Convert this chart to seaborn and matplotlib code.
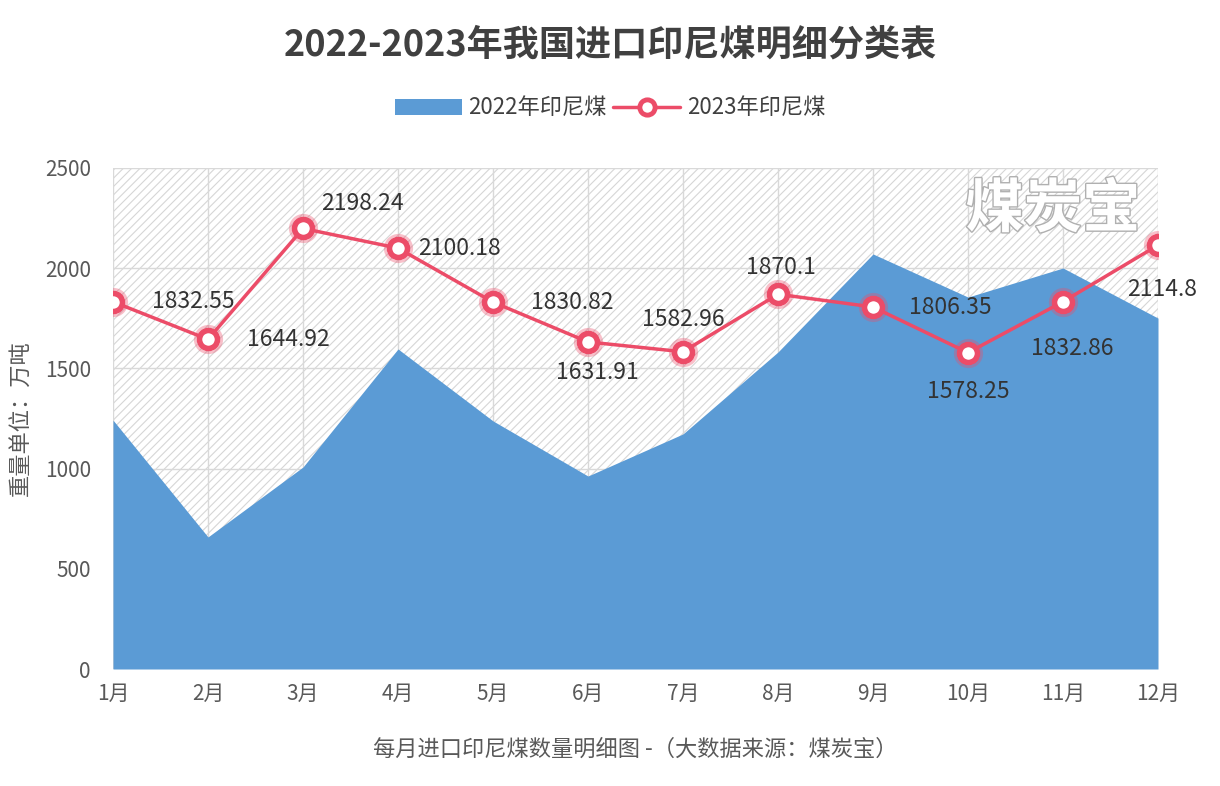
import numpy as np
import pandas as pd
import matplotlib
matplotlib.use("Agg")
import matplotlib.pyplot as plt
import matplotlib.patheffects as pe
from matplotlib.patches import Patch
from matplotlib.lines import Line2D
import seaborn as sns

# data
months = ["1月", "2月", "3月", "4月", "5月", "6月", "7月", "8月", "9月", "10月", "11月", "12月"]
coal_2022 = [1242, 659, 1008, 1597, 1238, 963, 1173, 1582, 2071, 1856, 2001, 1751]
coal_2023 = [1832.55, 1644.92, 2198.24, 2100.18, 1830.82, 1631.91, 1582.96, 1870.1, 1806.35, 1578.25, 1832.86, 2114.8]
label_2023 = ["1832.55", "1644.92", "2198.24", "2100.18", "1830.82", "1631.91", "1582.96", "1870.1", "1806.35", "1578.25", "1832.86", "2114.8"]

sns.set_theme(style="white")
plt.rcParams["font.family"] = ["Noto Sans CJK SC", "DejaVu Sans"]
plt.rcParams["hatch.linewidth"] = 0.8

df = pd.DataFrame({"month": np.arange(1, 13), "y2022": coal_2022, "y2023": coal_2023})

blue = "#5B9BD5"
red = "#EC4C68"
txt = "#595959"

fig = plt.figure(figsize=(12.2, 7.86), dpi=100)
ax = fig.add_axes([113 / 1220, 1 - 669 / 786, (1158 - 113) / 1220, (669 - 168) / 786])

# hatched background of the plot area
ax.fill_between(df["month"], 0, 2500, facecolor="white", edgecolor="#d6d6d6",
                hatch="////", linewidth=0, zorder=0)
for m in df["month"]:
    ax.axvline(m, color="#d9d9d9", lw=1, zorder=1)
for v in range(0, 2501, 500):
    ax.axhline(v, color="#d9d9d9", lw=1, zorder=1)

# 2022 area
ax.fill_between(df["month"], 0, df["y2022"], color=blue, lw=0, zorder=2)

# 2023 line
sns.lineplot(data=df, x="month", y="y2023", ax=ax, color=red, lw=2.5, zorder=4, legend=False)
ax.plot(df["month"], df["y2023"], "o", ms=19, mfc="none", mec=red, mew=2, alpha=0.35, zorder=5)
ax.plot(df["month"], df["y2023"], "o", ms=13, mfc="white", mec=red, mew=4, zorder=6)

# value labels, offsets in points
offsets = [(58, 0), (58, 0), (43, 18), (44, 0), (57, 0), (7, -22), (0, 23), (2, 19),
           (56, 0), (0, -28), (7, -34), (3, -32)]
for m, v, lab, off in zip(df["month"], df["y2023"], label_2023, offsets):
    ax.annotate(lab, (m, v), xytext=off, textcoords="offset points",
                ha="center", va="center", fontsize=16.5, color="#333333", zorder=7)

ax.set_xlim(1, 12)
ax.set_ylim(0, 2500)
ax.set_xticks(df["month"])
ax.set_xticklabels(months)
ax.set_yticks(range(0, 2501, 500))
ax.tick_params(axis="both", length=0, labelsize=15, labelcolor=txt)
ax.tick_params(axis="x", pad=10)
ax.tick_params(axis="y", pad=16)
for s in ax.spines.values():
    s.set_visible(False)
ax.set_xlabel("每月进口印尼煤数量明细图 -（大数据来源：煤炭宝）", fontsize=16, color=txt, labelpad=24)
ax.set_ylabel("重量单位：万吨", fontsize=16, color=txt, labelpad=6)
ax.yaxis.set_label_coords(-0.077, 0.5)

# watermark
ax.text(1053 / 1220, 1 - 210 / 786, "煤炭宝", transform=fig.transFigure, ha="center", va="center",
        fontsize=42, fontweight="bold", color="white", style="italic", zorder=8,
        path_effects=[pe.withStroke(linewidth=2, foreground="#b0b0b0")])

fig.text(0.5, 1 - 45 / 786, "2022-2023年我国进口印尼煤明细分类表", ha="center", va="center",
         fontsize=26, fontweight="bold", color="#404040")

handles = [Patch(facecolor=blue, edgecolor="none"),
           Line2D([], [], color=red, lw=2.5, marker="o", ms=11, mfc="white", mec=red, mew=3.5)]
fig.legend(handles, ["2022年印尼煤", "2023年印尼煤"], loc="center", bbox_to_anchor=(0.5, 1 - 108 / 786),
           ncol=2, frameon=False, fontsize=16, handlelength=3.0, handletextpad=0.3, columnspacing=0.3,
           labelcolor="#404040")

fig.savefig("out.png", dpi=100, facecolor="white")
